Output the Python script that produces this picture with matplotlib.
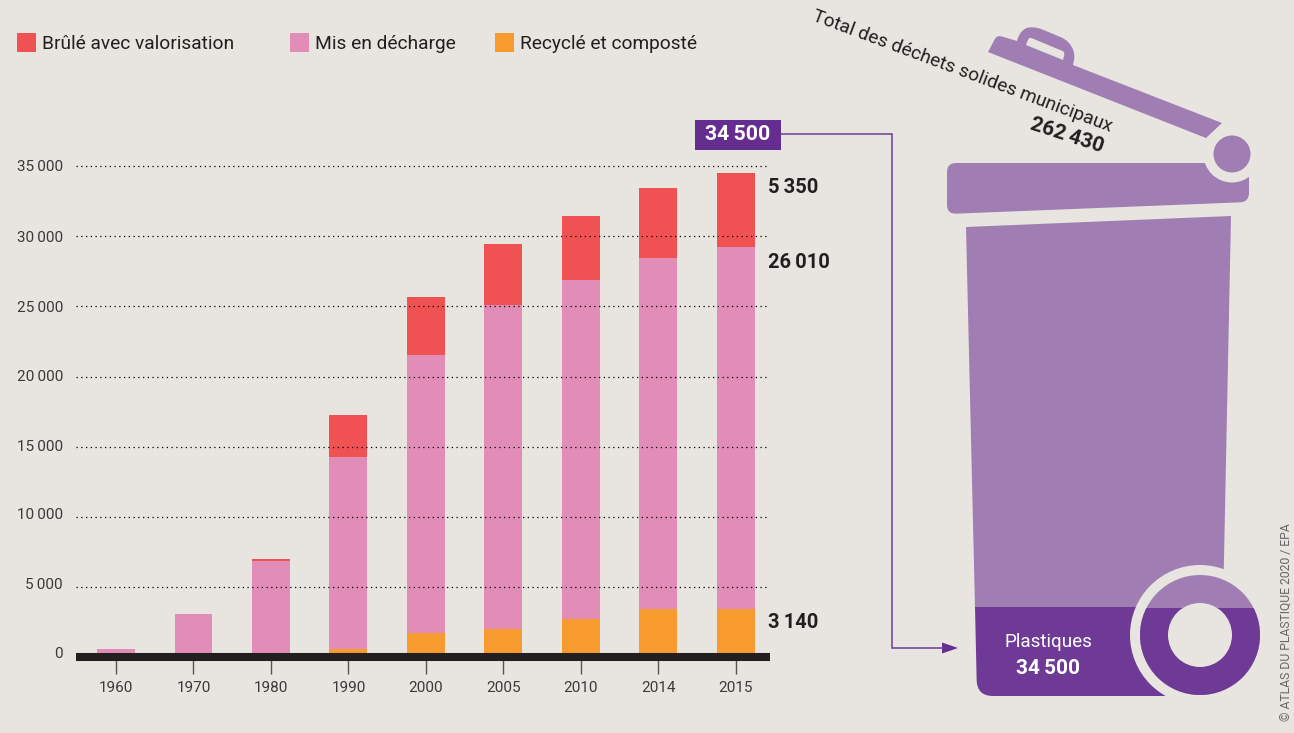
import matplotlib
matplotlib.use('Agg')
import matplotlib.pyplot as plt
import matplotlib.patches as mpatches
from matplotlib.path import Path
from matplotlib.transforms import ScaledTranslation

years = ['1960', '1970', '1980', '1990', '2000', '2005', '2010', '2014', '2015']
recycled = [0, 0, 0, 600, 1740, 2020, 2730, 3440, 3440]
landfill = [600, 3090, 6850, 13650, 19790, 23070, 24140, 25000, 25780]
burned = [0, 0, 150, 3010, 4130, 4340, 4560, 4980, 5270]
y_ticks = [0, 5000, 10000, 15000, 20000, 25000, 30000, 35000]
y_labels = ['0', '5\u2009000', '10\u2009000', '15\u2009000', '20\u2009000', '25\u2009000', '30\u2009000', '35\u2009000']
y_label_shift = [5, 4, 3, 1, 1, 0, 0, 0]

BG = '#E8E5E0'
RED = '#F05153'
PINK = '#E28DB8'
ORANGE = '#F79B2F'
LIGHT = '#A07DB3'
DARK = '#6F3A96'
BOX = '#662D91'
TXT = '#231F20'
W, H = 1294, 733

plt.rcParams['font.family'] = ['Roboto', 'DejaVu Sans']

fig = plt.figure(figsize=(W / 100, H / 100), dpi=100, facecolor=BG)
ax = fig.add_axes([76 / W, (H - 657.4) / H, 694 / W, 519.5 / H], facecolor='none')

x = list(range(len(years)))
bottom2 = [a + b for a, b in zip(recycled, landfill)]
ax.bar(x, recycled, width=0.49, color=ORANGE)
ax.bar(x, landfill, width=0.49, bottom=recycled, color=PINK)
ax.bar(x, burned, width=0.49, bottom=bottom2, color=RED)

ax.set_xlim(-0.516, 8.439)
ax.set_ylim(0, 37000)
ax.set_xticks(x, years)
ax.set_yticks(y_ticks, y_labels)
ax.set_axisbelow(False)
ax.grid(axis='y', color='black', linestyle=(0, (1, 2.8)), linewidth=0.9)
ax.grid(axis='x', visible=False)
ax.tick_params(axis='x', length=12.2, width=1, color='#555555', labelsize=11, labelcolor='#3a3a3a', pad=5)
ax.tick_params(axis='y', length=0, labelsize=11, labelcolor='#3a3a3a', pad=9.4)
for lab, shift in zip(ax.get_yticklabels(), y_label_shift):
    lab.set_transform(lab.get_transform() + ScaledTranslation(0, shift / 100, fig.dpi_scale_trans))
for s in ['top', 'left', 'right']:
    ax.spines[s].set_visible(False)
ax.spines['bottom'].set_linewidth(5.8)
ax.spines['bottom'].set_color(TXT)
ax.spines['bottom'].set_capstyle('butt')
ax.spines['bottom'].set_zorder(5)

# overlay in pixels for legend, notes and the bin
ov = fig.add_axes([0, 0, 1, 1], facecolor='none')
ov.set_xlim(0, W)
ov.set_ylim(H, 0)
ov.axis('off')


def rounded(points, radii):
    verts, codes = [], []
    n = len(points)
    for i in range(n):
        px, py = points[i]
        ax_, ay_ = points[i - 1]
        bx, by = points[(i + 1) % n]
        r = radii[i]
        da = ((ax_ - px) ** 2 + (ay_ - py) ** 2) ** 0.5
        db = ((bx - px) ** 2 + (by - py) ** 2) ** 0.5
        p1 = (px + (ax_ - px) * r / da, py + (ay_ - py) * r / da)
        p2 = (px + (bx - px) * r / db, py + (by - py) * r / db)
        verts.append(p1)
        codes.append(Path.MOVETO if i == 0 else Path.LINETO)
        if r > 0:
            verts += [(px, py), p2]
            codes += [Path.CURVE3, Path.CURVE3]
    verts.append(verts[0])
    codes.append(Path.CLOSEPOLY)
    return Path(verts, codes)


def shape(points, radii, color):
    ov.add_patch(mpatches.PathPatch(rounded(points, radii), facecolor=color, edgecolor='none'))


# legend
for lx, col, name in [(17, RED, 'Brûlé avec valorisation'), (290, PINK, 'Mis en décharge'), (495, ORANGE, 'Recyclé et composté')]:
    ov.add_patch(mpatches.Rectangle((lx, 33), 19, 19, facecolor=col, edgecolor='none'))
    ov.text(lx + 25, 44, name, fontsize=13.8, color=TXT, va='center', ha='left')

# value labels
for ly, txt in [(187.5, '5\u2009350'), (262.5, '26\u2009010'), (622.5, '3\u2009140')]:
    ov.text(768, ly, txt, fontsize=14.5, fontweight='bold', color=TXT, va='center', ha='left')

# connector
ov.plot([781, 892, 892, 944], [134, 134, 648, 648], color=DARK, linewidth=1.1, solid_joinstyle='miter')
ov.add_patch(mpatches.Polygon([(942, 642.5), (958, 648), (942, 653.5)], facecolor=BOX, edgecolor='none'))
ov.add_patch(mpatches.Rectangle((695, 120), 86, 30, facecolor=BOX, edgecolor='none'))
ov.text(738, 135, '34\u2009500', fontsize=15.3, fontweight='bold', color='white', va='center', ha='center')

# lid
shape([(988, 52), (997, 35), (1017, 41), (1021, 29), (1034, 26), (1070, 41), (1075, 55), (1073, 65),
       (1222, 123), (1206, 138)], [0, 5, 0, 9, 9, 10, 5, 0, 0, 0], LIGHT)
shape([(1029, 37), (1065, 52), (1063, 60), (1026, 45)], [3, 3, 0, 0], BG)
shape([(947, 163), (1249, 163), (1249, 202), (947, 214)], [9, 0, 9, 9], LIGHT)
ov.add_patch(mpatches.Circle((1232, 154), 28.5, facecolor=BG, edgecolor='none'))
ov.add_patch(mpatches.Circle((1232, 154), 18.5, facecolor=LIGHT, edgecolor='none'))

# body
shape([(966, 227), (1231, 216), (1223, 607.5), (975, 607.5)], [0, 0, 0, 0], LIGHT)
shape([(975, 607), (1223, 607), (1222, 696), (977, 696)], [0, 0, 0, 16], DARK)
ov.add_patch(mpatches.Circle((1200, 635), 70, facecolor=BG, edgecolor='none'))
ov.add_patch(mpatches.Circle((1200, 635), 60, facecolor=LIGHT, edgecolor='none'))
lower = ov.add_patch(mpatches.Rectangle((1130, 607.5), 140, 100, facecolor='none', edgecolor='none'))
wheel = ov.add_patch(mpatches.Circle((1200, 635), 60, facecolor=DARK, edgecolor='none'))
wheel.set_clip_path(lower)
ov.add_patch(mpatches.Circle((1200, 635), 32, facecolor=BG, edgecolor='none'))

ov.text(1048, 642, 'Plastiques', fontsize=13.6, color='white', va='center', ha='center')
ov.text(1048, 668, '34\u2009500', fontsize=15, fontweight='bold', color='white', va='center', ha='center')
ov.text(962, 71, 'Total des déchets solides municipaux', fontsize=13.7, color=TXT, rotation=-20.5,
        rotation_mode='anchor', va='center', ha='center')
ov.text(1067, 136, '262\u2009430', fontsize=15, fontweight='bold', color=TXT, rotation=-18,
        rotation_mode='anchor', va='center', ha='center')
ov.text(1287, 622, '© ATLAS DU PLASTIQUE 2020 / EPA', fontsize=8.7, color='#666666', rotation=90,
        va='center', ha='center')

fig.savefig('out.png', dpi=100, facecolor=BG)
